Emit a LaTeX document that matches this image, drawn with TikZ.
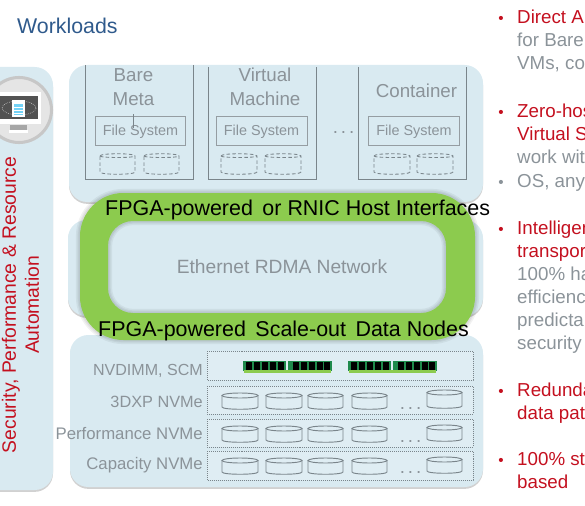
\documentclass[tikz,border=0pt]{standalone}
\usepackage{fontspec}
\setmainfont{Liberation Sans}
\usepackage{tikz}
\usetikzlibrary{shadows}
\definecolor{panelblue}{HTML}{D9EAF1}
\definecolor{ringgreen}{HTML}{8CCB4E}
\definecolor{greytext}{HTML}{8B9399}
\definecolor{boxline}{HTML}{7A858B}
\definecolor{redtext}{HTML}{C4101F}
\definecolor{bluetext}{HTML}{2F5A8C}
\definecolor{dimmgreen}{HTML}{1F8A4C}
\def\fsize#1{\fontsize{#1pt}{#1pt}\selectfont}
% dashed can in a workload box: left, right, top, bottom
\def\dashdisk#1#2#3#4{
    \draw[diskdash] (#1,#3+2) .. controls (#1,#3-1) and (#2,#3-1) .. (#2,#3+2) -- (#2,#4-2) .. controls (#2,#4+1) and (#1,#4+1) .. (#1,#4-2) -- cycle;
    \draw[diskdash] (#1,#3+2) .. controls (#1,#3+4) and (#2,#3+4) .. (#2,#3+2);
}
% solid disk in a storage row
\def\soliddisk#1#2#3#4{
    \draw[diskline] ({(#1+#2)/2},#3+2.5) ellipse ({(#2-#1)/2} and 2.5);
    \draw[diskline] (#1,#3+2.5) -- (#1,#4-2) .. controls (#1,#4+1) and (#2,#4+1) .. (#2,#4-2) -- (#2,#3+2.5);
}
% memory module: left end, top
\def\dimm#1#2{
    \fill[dimmgreen] (#1,#2+1) rectangle (#1+43,#2+11);
    \fill[dimmgreen] (#1+45,#2+1) rectangle (#1+89,#2+11);
    \fill[ringgreen] (#1+1,#2+10) rectangle (#1+88,#2+13);
    \fill[black] (#1+3,#2+2) rectangle (#1+9,#2+10);
    \fill[black] (#1+11,#2+2) rectangle (#1+17,#2+10);
    \fill[black] (#1+19,#2+2) rectangle (#1+25,#2+10);
    \fill[black] (#1+27,#2+2) rectangle (#1+33,#2+10);
    \fill[black] (#1+35,#2+2) rectangle (#1+41,#2+10);
    \fill[black] (#1+50,#2+2) rectangle (#1+56,#2+10);
    \fill[black] (#1+58,#2+2) rectangle (#1+64,#2+10);
    \fill[black] (#1+66,#2+2) rectangle (#1+72,#2+10);
    \fill[black] (#1+74,#2+2) rectangle (#1+80,#2+10);
    \fill[black] (#1+81,#2+2) rectangle (#1+87,#2+10);
}
\def\ringpath{[rounded corners=13mm] (80,193) rectangle (475,340) [rounded corners=7.5mm] (108,221) rectangle (446,313)}
\begin{document}
\begin{tikzpicture}[x=0.03cm,y=-0.03cm,
    panel/.style={fill=panelblue,rounded corners=5.5mm,drop shadow={shadow xshift=0pt,shadow yshift=-1.6pt,fill=black!45,opacity=0.4}},
    halo/.style={draw=black,opacity=0.05},
    workbox/.style={draw=boxline,line width=0.8pt},
    fsbox/.style={draw=boxline!80,line width=0.6pt},
    rowbox/.style={draw=boxline,line width=0.7pt,densely dotted,fill=panelblue!85!white},
    diskdash/.style={draw=boxline,line width=0.75pt,densely dashed},
    diskline/.style={draw=boxline,line width=0.8pt},
    title/.style={inner sep=0pt,anchor=base,text=greytext,font=\fsize{16}},
    fslabel/.style={inner sep=0pt,anchor=base,text=greytext,font=\fsize{12.3}},
    rowlabel/.style={inner sep=0pt,anchor=base east,text=greytext,font=\fsize{14.3}},
    ringlabel/.style={inner sep=0pt,anchor=base west,text=black,font=\fsize{18.3}},
    redline/.style={inner sep=0pt,anchor=base west,text=redtext,font=\fsize{16}},
    greyline/.style={inner sep=0pt,anchor=base west,text=greytext,font=\fsize{16}},
    dotmark/.style={inner sep=0pt,anchor=base,text=greytext,font=\fsize{16}},
    bulletmark/.style={inner sep=0pt,anchor=base,font=\fsize{13}}]
    \useasboundingbox (0,0) rectangle (585,506);
    \clip (0,0) rectangle (585,506);

    \draw (17,34) node[inner sep=0pt,anchor=base west,text=bluetext,font=\fsize{18.2}] (workloads) {Workloads};

    % left band with the monitor
    \begin{scope}
        \fill[panel] (-30,67) rectangle (53,490);
        \draw[draw=black!22,fill=black!10,line width=2.6pt] (19,110) circle (32.5);
        \fill[white] (-3,92) rectangle (41,124);
        \fill[black!68] (-3,96) rectangle (38,119);
        \fill[black!35] (10,125) rectangle (27,130);
        \fill[white] (9,130) rectangle (28,133);
        \draw[white!75!black,densely dotted,line width=0.6pt] (19,108) ellipse (17 and 7);
        \fill[white] (12,100) rectangle (25,117);
        \fill[cyan!55] (14,104) rectangle (23,115);
        \draw[white] (14,107) -- (23,107);
        \draw[white] (14,110) -- (23,110);
        \draw[white] (14,113) -- (23,113);
        \draw (20.5,305) node[rotate=90,align=center,inner sep=0pt,text=redtext,font=\fontsize{16.5pt}{19.6pt}\selectfont] (security) {Security, Performance \& Resource\\Automation};
    \end{scope}

    % workloads
    \begin{scope}
        \fill[panel] (69,65) rectangle (483,202);
        \draw[workbox] (85.5,65) -- (85.5,179) -- (193,179) -- (193,65);
        \draw[workbox] (208.5,67) -- (208.5,179) -- (316.5,179) -- (316.5,67);
        \draw[workbox] (358.5,67) -- (358.5,179) -- (466.5,179) -- (466.5,67);
        \draw (133.5,82) node[title] (bare) {Bare};
        \draw (133.5,105) node[title] (meta) {Meta};
        \draw (265,82) node[title] (virtual) {Virtual};
        \draw (265,105) node[title] (machine) {Machine};
        \draw (416.5,97) node[title] (container) {Container};
        \draw[fsbox] (95.5,116) rectangle (185.5,145);
        \draw[fsbox] (216,116) rectangle (307,145);
        \draw[fsbox] (368.5,116) rectangle (459.5,145);
        \draw (140.5,135) node[fslabel] (fsa) {File System};
        \draw (261.5,135) node[fslabel] (fsb) {File System};
        \draw (414,135) node[fslabel] (fsc) {File System};
        \coordinate (tick) at (133.5,128);
        \draw[boxline,line width=0.9pt] (meta.south) ++(0,9) -- (tick);
        \dashdisk{100}{135}{154}{174}
        \dashdisk{144}{179}{154}{174}
        \dashdisk{221}{257}{154}{174}
        \dashdisk{265}{301}{154}{174}
        \dashdisk{374}{410}{154}{174}
        \dashdisk{417}{453}{154}{174}
        \draw (343.5,134) node[dotmark] (dotsa) {.\hspace{2.5pt}.\hspace{2.5pt}.};
    \end{scope}

    % network
    \begin{scope}
        \fill[panel] (68,220) rectangle (483,316);
        \draw (282,273) node[inner sep=0pt,anchor=base,text=greytext,font=\fsize{16.4}] (ethernet) {Ethernet RDMA Network};
    \end{scope}

    % storage
    \begin{scope}
        \fill[panel] (70,335) rectangle (483,487);
        \draw[rowbox] (207,351) rectangle (473,380);
        \draw[rowbox] (207,386) rectangle (473,414);
        \draw[rowbox] (207,419) rectangle (473,447);
        \draw[rowbox] (207,451) rectangle (473,480);
        \draw (203,375) node[rowlabel,font=\fsize{13.7}] (nvdimm) {NVDIMM, SCM};
        \draw (203,407) node[rowlabel,font=\fsize{13.9}] (threedxp) {3DXP NVMe};
        \draw (203,439) node[rowlabel] (perf) {Performance NVMe};
        \draw (203,469) node[rowlabel] (capacity) {Capacity NVMe};
        \dimm{243}{360}
        \dimm{348}{360}
        \soliddisk{222}{258}{393}{409}
        \soliddisk{266}{302}{393}{409}
        \soliddisk{308}{343}{393}{409}
        \soliddisk{352}{387}{393}{409}
        \soliddisk{427}{462}{390}{408}
        \soliddisk{222}{258}{426}{442}
        \soliddisk{266}{302}{426}{442}
        \soliddisk{308}{343}{426}{442}
        \soliddisk{352}{387}{426}{442}
        \soliddisk{427}{462}{425}{441}
        \soliddisk{222}{258}{458}{474}
        \soliddisk{266}{302}{458}{474}
        \soliddisk{308}{343}{458}{474}
        \soliddisk{352}{387}{458}{474}
        \soliddisk{427}{462}{457}{473}
        \draw (410.5,409) node[dotmark] (dotsb) {.\hspace{2.5pt}.\hspace{2.5pt}.};
        \draw (410.5,442) node[dotmark] (dotsc) {.\hspace{2.5pt}.\hspace{2.5pt}.};
        \draw (410.5,473) node[dotmark] (dotsd) {.\hspace{2.5pt}.\hspace{2.5pt}.};
    \end{scope}

    % green ring over the three panels
    \draw[halo,line width=7pt] \ringpath;
    \draw[halo,line width=4.5pt] \ringpath;
    \draw[halo,line width=2.5pt] \ringpath;
    \fill[ringgreen,even odd rule] \ringpath;
    \draw (105,215) node[ringlabel] (hostif) {FPGA-powered\, or RNIC Host Interfaces};
    \draw (98,336) node[ringlabel] (datanodes) {FPGA-powered\, Scale-out\, Data Nodes};

    % right column, cut by the page edge
    \begin{scope}
        \draw (501,24) node[bulletmark,text=redtext] (ba) {•};
        \draw (517,24) node[redline] (la) {Direct A};
        \draw (517,47) node[greyline] (lb) {for Bare};
        \draw (517,70) node[greyline] (lc) {VMs, co};
        \draw (501,117) node[bulletmark,text=redtext] (bb) {•};
        \draw (517,117) node[redline] (ld) {Zero-hos};
        \draw (517,140) node[redline] (le) {Virtual S};
        \draw (517,163) node[greyline] (lf) {work wit};
        \draw (501,187) node[bulletmark,text=greytext] (bc) {•};
        \draw (517,187) node[greyline] (lg) {OS, any};
        \draw (501,234) node[bulletmark,text=redtext] (bd) {•};
        \draw (517,234) node[redline] (lh) {Intelligen};
        \draw (517,257) node[redline] (li) {transpor};
        \draw (517,280) node[greyline] (lj) {100\% ha};
        \draw (517,303) node[greyline] (lk) {efficienc};
        \draw (517,326) node[greyline] (ll) {predicta};
        \draw (517,349) node[greyline] (lm) {security};
        \draw (501,396) node[bulletmark,text=redtext] (be) {•};
        \draw (517,396) node[redline] (ln) {Redunda};
        \draw (517,419) node[redline] (lo) {data pat};
        \draw (501,465) node[bulletmark,text=redtext] (bf) {•};
        \draw (517,465) node[redline] (lp) {100\% st};
        \draw (517,488) node[redline] (lq) {based};
    \end{scope}
\end{tikzpicture}
\end{document}
